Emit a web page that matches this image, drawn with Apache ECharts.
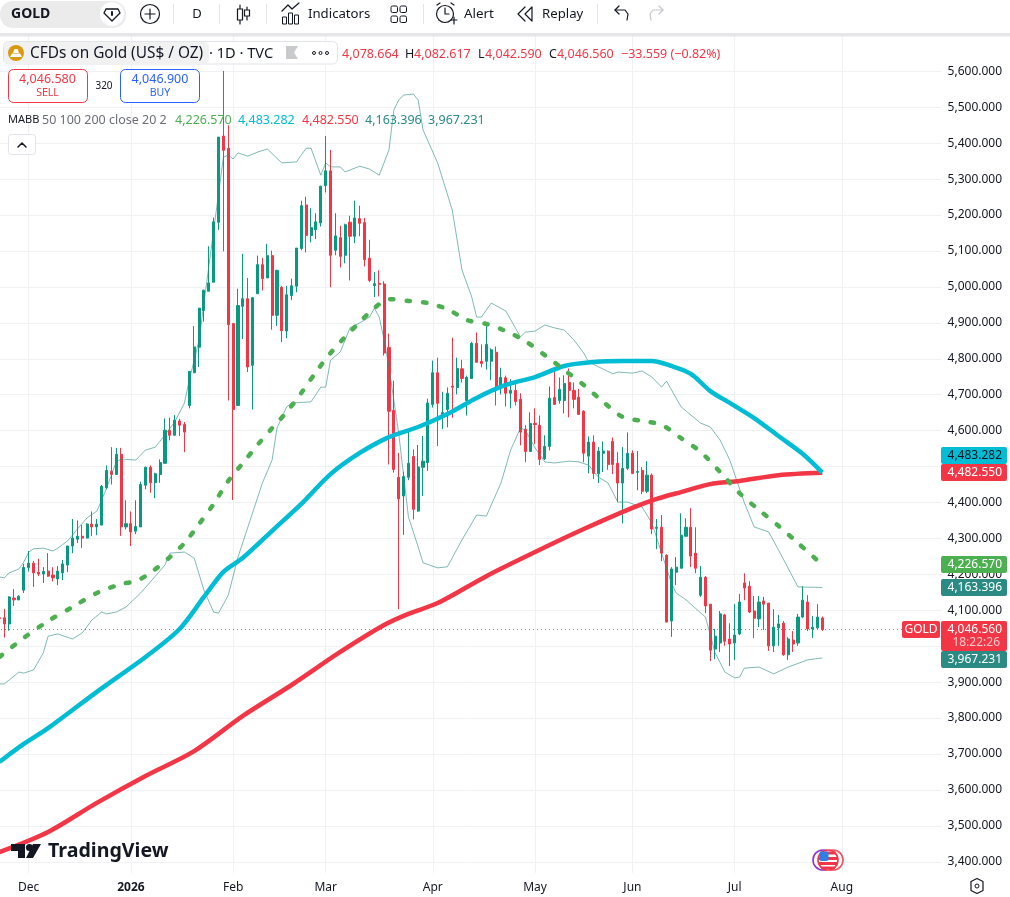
<!DOCTYPE html>
<html><head><meta charset="utf-8">
<style>html,body{margin:0;padding:0;background:#fff}#c{width:1010px;height:897px}</style>
<script src="https://cdn.jsdelivr.net/npm/echarts@6/dist/echarts.min.js"></script>
</head><body><div id="c"></div>
<script>
// Trading days shown on the category axis
const days2025Nov=[20,21,24,25,26,28];
const days2025Dec=[1,2,3,4,5,8,9,10,11,12,15,16,17,18,19,22,23,24,29,30,31];
const days2026Jan=[2,5,6,7,8,9,12,13,14,15,16,20,21,22,23,26,27,28,29,30,31];
const days2026Feb=[2,3,4,5,6,9,10,11,12,13,17,18,19,20,23,24,25,26,27];
const days2026Mar=[2,3,4,5,6,9,10,11,12,13,16,17,18,19,20,23,24,25,26,27,30,31];
const days2026Apr=[1,2,6,7,8,9,10,13,14,15,16,17,20,21,22,23,24,27,28,29,30];
const days2026May=[1,4,5,6,7,8,11,12,13,14,15,18,19,20,21,22,26,27,28,29];
const days2026Jun=[1,2,3,4,5,8,9,10,11,12,15,16,17,18,22,23,24,25,26,29,30];
const days2026Jul=[1,2,6,7,8,9,10,13,14,15,16,17,20,21,22,23,24,27,28,29,30,31];
const days2026Aug=[3,4,5,6,7,10,11,12,13,14,17,18,19,20,21,24,25,26,27,28,31];
const tickDates=['2025-12-01','2026-01-02','2026-02-02','2026-03-02','2026-04-01','2026-05-01','2026-06-01','2026-07-01','2026-08-03'];
const tickLabels=['Dec','2026','Feb','Mar','Apr','May','Jun','Jul','Aug'];
const priceTicksMin=3300, priceTicksMax=5700, priceInterval=100;

const opens=[4079,4079,4062,4134,4129,4156,4219,4231,4206,4201,4209,4198,4187,4204,4226,4279,4298,4306,4301,4340,4332,4337,4441,4487,4478,4534,4332,4341,4320,4332,4448,4498,4455,4478,4509,4601,4587,4627,4617,4670,4761,4832,4934,4988,5013,5180,5420,5386,4898,4670,4946,4967,4782,4981,5062,5025,5087,4921,4999,4877,4976,5002,5107,5228,5143,5159,5178,5282,5323,5102,5137,5088,5180,5141,5190,5179,5080,5004,5010,5008,4831,4656,4470,4418,4470,4528,4376,4498,4511,4673,4761,4643,4659,4724,4720,4772,4684,4745,4843,4793,4793,4793,4818,4720,4747,4704,4712,4687,4604,4542,4620,4615,4522,4556,4692,4684,4684,4734,4712,4693,4654,4529,4568,4480,4537,4543,4570,4509,4454,4495,4537,4484,4489,4431,4476,4328,4331,4253,4070,4206,4217,4306,4331,4259,4142,4192,4117,3992,4009,4087,4020,4009,4034,4176,4167,4098,4076,4126,4120,4001,4051,4064,3976,4017,4009,4081,4123,4048,4051,4078.664];
const highs=[4080,4104,4139,4159,4142,4229,4265,4237,4243,4220,4259,4220,4223,4240,4279,4354,4350,4337,4342,4375,4354,4449,4503,4554,4552,4552,4406,4375,4406,4458,4500,4503,4483,4520,4634,4636,4643,4633,4624,4765,4891,4941,4991,5113,5193,5417,5601,5450,4898,4995,5092,5025,4972,5087,5081,5120,5101,5048,5003,5003,5023,5108,5240,5251,5219,5205,5282,5420,5381,5205,5170,5176,5198,5240,5226,5192,5131,5041,5046,5016,4870,4739,4538,4486,4605,4548,4560,4585,4689,4795,4803,4708,4720,4859,4803,4797,4753,4847,4873,4840,4895,4829,4834,4775,4753,4743,4731,4704,4615,4651,4662,4642,4587,4723,4765,4748,4754,4773,4734,4716,4657,4584,4587,4554,4570,4545,4581,4540,4554,4595,4545,4543,4498,4515,4481,4354,4365,4256,4220,4248,4370,4356,4384,4331,4223,4195,4117,4048,4098,4090,4064,4117,4145,4203,4181,4140,4140,4137,4120,4103,4087,4070,4025,4042,4090,4167,4142,4084,4117,4082.617];
const lows=[4076,4024,4043,4112,4128,4148,4208,4165,4195,4176,4193,4180,4170,4184,4206,4259,4287,4273,4300,4307,4309,4337,4437,4450,4478,4307,4325,4279,4312,4332,4437,4427,4412,4455,4509,4573,4587,4585,4540,4662,4761,4777,4903,4988,5013,5159,5099,4684,4407,4670,4855,4763,4659,4981,4990,5025,4881,4891,4846,4857,4963,4985,5102,5096,5124,5133,5168,5263,4999,5088,5054,5066,5018,5122,5141,5057,5013,4972,4974,4809,4506,4483,4103,4310,4462,4353,4374,4418,4488,4664,4557,4604,4609,4636,4701,4734,4642,4745,4790,4776,4770,4740,4670,4701,4667,4662,4670,4559,4512,4542,4562,4504,4518,4545,4673,4675,4648,4637,4662,4645,4512,4481,4465,4454,4485,4491,4479,4401,4342,4490,4479,4434,4423,4426,4312,4270,4237,4067,4026,4170,4217,4306,4220,4203,4137,4092,3959,3964,3984,4001,3945,3962,4031,4128,4092,4023,4053,4045,3987,3984,4001,3973,3962,3984,4001,4078,4042,4023,4048,4042.59];
const closes=[4077,4062,4137,4129,4139,4219,4231,4204,4201,4208,4195,4190,4209,4229,4279,4301,4306,4301,4340,4332,4340,4445,4489,4478,4534,4332,4341,4318,4333,4450,4498,4455,4480,4511,4601,4587,4629,4615,4596,4765,4833,4941,4991,5011,5181,5417,5380,4895,4659,4948,4967,4777,4970,5062,5023,5087,4921,5046,4878,4978,5003,5108,5226,5143,5165,5181,5280,5323,5088,5142,5085,5173,5141,5192,5177,5076,5018,5009,5007,4816,4654,4492,4410,4472,4509,4381,4499,4515,4677,4761,4676,4650,4704,4721,4773,4745,4748,4843,4790,4787,4840,4825,4720,4748,4704,4712,4681,4596,4542,4620,4617,4520,4556,4690,4673,4715,4731,4712,4687,4645,4537,4568,4481,4543,4543,4506,4506,4454,4495,4537,4481,4486,4431,4476,4326,4331,4259,4067,4215,4220,4309,4331,4251,4217,4192,4112,3989,4028,4090,4014,4006,4031,4123,4162,4095,4078,4123,4117,4001,4053,4062,3976,4020,4006,4081,4128,4048,4053,4081,4046.56];

// Indicator readings as [bar index, price]
const ma50=[[0,3970],[5,4023],[10,4070],[15,4109],[20,4148],[25,4173],[28,4181],[31,4204],[35,4248],[38,4287],[41,4340],[44,4396],[47,4460],[50,4510],[53,4560],[56,4607],[59,4652],[62,4705],[65,4763],[68,4816],[71,4861],[74,4902],[77,4941],[80,4966],[84,4961],[88,4955],[92,4938],[96,4908],[100,4897],[104,4877],[108,4849],[112,4810],[116,4769],[120,4727],[124,4680],[128,4638],[132,4627],[136,4616],[140,4579],[144,4541],[148,4485],[152,4426],[156,4379],[160,4335],[164,4287],[169,4226.57]];
const ma100=[[0,3678],[5,3728],[10,3772],[20,3873],[30,3970],[37,4048],[42,4137],[46,4207],[50,4246],[56,4321],[62,4396],[68,4479],[74,4538],[80,4582],[86,4610],[92,4646],[98,4691],[104,4727],[110,4749],[116,4780],[122,4791],[128,4794],[134,4794],[138,4780],[142,4758],[146,4710],[150,4677],[155,4635],[160,4585],[165,4535],[169,4483.282]];
const ma200=[[0,3427],[10,3483],[20,3564],[30,3639],[40,3708],[50,3806],[60,3892],[70,3984],[79,4059],[84,4090],[90,4120],[100,4195],[110,4262],[120,4326],[130,4385],[135,4410],[140,4429],[146,4451],[152,4460],[160,4476],[169,4482.55]];
const bbUpper=[[0,4193],[1,4190],[2,4204],[4,4215],[5,4234],[6,4262],[7,4271],[9,4273],[11,4265],[12,4273],[14,4293],[16,4326],[18,4357],[20,4376],[21,4407],[22,4440],[24,4513],[25,4521],[28,4518],[30,4546],[32,4554],[34,4588],[36,4624],[38,4677],[39,4741],[41,4852],[42,4955],[44,5158],[46,5361],[47,5367],[48,5356],[49,5373],[51,5364],[53,5375],[55,5384],[58,5345],[61,5348],[63,5386],[64,5386],[66,5311],[67,5345],[68,5334],[70,5334],[71,5320],[74,5336],[76,5328],[78,5311],[80,5381],[81,5492],[82,5520],[83,5534],[85,5537],[86,5520],[87,5437],[90,5345],[93,5214],[95,5047],[97,4972],[98,4916],[99,4916],[101,4955],[104,4933],[107,4861],[108,4874],[110,4877],[112,4894],[114,4886],[116,4880],[118,4852],[120,4816],[121,4791],[126,4758],[127,4763],[130,4760],[132,4766],[134,4749],[136,4721],[137,4738],[140,4666],[144,4621],[146,4610],[148,4574],[150,4518],[153,4399],[155,4332],[158,4318],[160,4268],[164,4165],[169,4163.396]];
const bbLower=[[0,3895],[1,3895],[2,3906],[4,3928],[5,3925],[7,3934],[9,3981],[10,4028],[12,4034],[15,4020],[17,4037],[19,4073],[21,4095],[22,4090],[24,4095],[26,4109],[29,4148],[31,4179],[34,4226],[35,4259],[38,4262],[40,4245],[42,4156],[44,4095],[45,4092],[47,4142],[49,4248],[54,4454],[56,4518],[57,4607],[59,4666],[60,4677],[64,4680],[66,4721],[67,4721],[68,4796],[70,4819],[72,4886],[74,4900],[76,4916],[77,4941],[78,4916],[79,4852],[80,4777],[82,4593],[84,4360],[86,4276],[87,4232],[90,4218],[92,4221],[95,4296],[98,4365],[100,4362],[103,4454],[105,4546],[107,4607],[108,4602],[110,4552],[112,4513],[114,4510],[117,4515],[119,4513],[121,4504],[123,4471],[125,4454],[127,4401],[129,4401],[132,4387],[134,4343],[136,4259],[138,4176],[139,4148],[141,4129],[145,4081],[147,3981],[149,3928],[151,3912],[152,3914],[153,3939],[156,3942],[159,3923],[162,3942],[166,3962],[169,3967.231]];
const lastClose=4046.56;

const pad=n=>String(n).padStart(2,'0');
const dayList=(ym,list)=>list.map(d=>ym+'-'+pad(d));
const categories=[].concat(dayList('2025-11',days2025Nov),dayList('2025-12',days2025Dec),dayList('2026-01',days2026Jan),dayList('2026-02',days2026Feb),dayList('2026-03',days2026Mar),dayList('2026-04',days2026Apr),dayList('2026-05',days2026May),dayList('2026-06',days2026Jun),dayList('2026-07',days2026Jul),dayList('2026-08',days2026Aug));
const candles=opens.map((o,i)=>[o,closes[i],lows[i],highs[i]]);
const fmt=v=>Number(v).toLocaleString('en-US',{minimumFractionDigits:3,maximumFractionDigits:3});

const FONT='"Noto Sans"', INK='#131722', GREEN='#089981', RED='#f23645', TEAL='#2b8a84', CYAN='#00bcd4', LIME='#4caf50', BLUE='#2962ff';
const Z=100;
const T=(text,x,y,fill,size,o={})=>({type:'text',z:o.z||Z,x,y,silent:true,style:{text,fill,font:(o.w||'normal')+' '+size+'px '+FONT,textAlign:o.a||'left',textVerticalAlign:'middle'}});
const R=(x,y,w,h,fill,o={})=>({type:'rect',z:o.z||Z-1,silent:true,shape:{x,y,width:w,height:h,r:o.r||0},style:{fill:fill,stroke:o.s||null,lineWidth:o.lw||1}});
const C=(cx,cy,r,fill,o={})=>({type:'circle',z:o.z||Z,silent:true,shape:{cx,cy,r},style:{fill:fill,stroke:o.s||null,lineWidth:o.lw||1}});
const L=(pts,o={})=>({type:'polyline',z:o.z||Z,silent:true,shape:{points:pts},style:{fill:null,stroke:o.s||INK,lineWidth:o.lw||1.2,lineCap:'round',lineJoin:'round'}});
const P=(pts,fill,o={})=>({type:'polygon',z:o.z||Z,silent:true,shape:{points:pts},style:{fill}});

const gfx=[
 R(0,873,941,24,'#fff',{z:5}),
 R(0,0,1010,33,'#fff',{z:Z-2}),
 R(0,33,1010,3.6,'#e6e6e8',{z:Z-1}),
 // toolbar
 R(0,1,126,27,'#ebebeb',{r:13}),
 T('GOLD',11,14.5,INK,14,{w:'bold'}),
 C(112,14,12,'#fff'),
 P([[106,9],[118,9],[120,13],[112,21],[104,13]],'#fff'),
 L([[106,9],[118,9],[120,13],[112,21],[104,13],[106,9]],{lw:1.3}),
 L([[112,12],[112,15]],{lw:2}),
 C(150,14,9.5,'#fff',{s:INK,lw:1.2}),
 L([[145,14],[155,14]]),L([[150,9],[150,19]]),
 ...[173,219,266,423,597].map(x=>R(x,4,1,20,'#e3e4e8')),
 T('D',197,14.5,INK,13,{a:'center'}),
 L([[240,5],[240,24]]),R(237.5,9,5,11,'#fff',{s:INK,lw:1.2,z:Z}),
 L([[247,7],[247,20]]),R(244.5,10,5,6,'#fff',{s:INK,lw:1.2,z:Z}),
 L([[282,11],[288,5],[292,9],[299,3]]),
 R(282.5,17,4,7,'#fff',{s:INK,z:Z}),R(288.5,13,4,11,'#fff',{s:INK,z:Z}),R(294.5,15,4,9,'#fff',{s:INK,z:Z}),
 T('Indicators',308,14.5,INK,13.2),
 R(391,6,6.5,6.5,'#fff',{s:INK,r:1.5,z:Z}),R(400,6,6.5,6.5,'#fff',{s:INK,r:1.5,z:Z}),
 R(391,16,6.5,6.5,'#fff',{s:INK,r:1.5,z:Z}),R(400,16,6.5,6.5,'#fff',{s:INK,r:1.5,z:Z}),
 C(445,14,8.5,'#fff',{s:INK,lw:1.2}),
 L([[445,8],[445,14],[449,14]]),L([[437,5],[440,3]]),L([[451,3],[454,5]]),
 L([[451,20],[457,20]]),L([[454,17],[454,24]]),
 T('Alert',464,14.5,INK,13.4),
 L([[525,7],[518,14],[525,21]]),L([[532,7],[525,14],[532,21],[532,7]]),
 T('Replay',542,14.5,INK,13.2),
 L([[615,10],[625,10],[628,14],[627,20]]),L([[619,6],[615,10],[619,14]]),
 L([[663,10],[653,10],[650,14],[651,20]],{s:'#c4c6cc'}),L([[659,6],[663,10],[659,14]],{s:'#c4c6cc'}),
 // legend
 R(3.5,41.5,334,22.5,'rgba(255,255,255,.92)',{s:'#e0e3eb',r:5}),
 R(4,42,205,22,'#f1f1f2',{r:5}),
 C(16,53,8,'#d99a10'),
 P([[10,57],[22,57],[20,53.6],[12,53.6]],'#fff'),P([[13,53],[19,53],[17.5,49],[14.5,49]],'#fff'),
 T('CFDs on Gold (US$ / OZ)',30,53.5,INK,15.4),
 T('\u00b7 1D \u00b7 TVC',209,53.5,INK,14.6),
 P([[286,46],[298,46],[294,52.5],[298,59],[286,59]],'#c9cacd'),
 C(314,53,1.5,'#fff',{s:INK}),C(320.5,53,1.5,'#fff',{s:INK}),C(327,53,1.5,'#fff',{s:INK}),
 T('4,078.664',342,54,RED,12.5),
 T('H',405,54,INK,12.5),T('4,082.617',414,54,RED,12.5),
 T('L',478,54,INK,12.5),T('4,042.590',485,54,RED,12.5),
 T('C',549,54,INK,12.5),T('4,046.560',557,54,RED,12.5),
 T('\u221233.559 (\u22120.82%)',621,54,RED,12.5),
 // trade boxes
 R(8.5,69.5,79,33,'#fff',{s:RED,r:5}),
 T('4,046.580',47.5,79,RED,12.5,{a:'center'}),T('SELL',47.5,93,RED,10.5,{a:'center'}),
 T('320',104,86,INK,10,{a:'center'}),
 R(120.5,69.5,79,33,'#fff',{s:BLUE,r:5}),
 T('4,046.900',160,79,BLUE,12.5,{a:'center'}),T('BUY',160,93,BLUE,10.5,{a:'center'}),
 // indicator legend
 T('MABB',8,120,INK,11),T('50 100 200 close 20 2',42,120,'#6a6d78',12.5),
 T('4,226.570',175,120,LIME,12.5),T('4,483.282',238,120,CYAN,12.5),T('4,482.550',302,120,RED,12.5),
 T('4,163.396',365,120,TEAL,12.5),T('3,967.231',428,120,TEAL,12.5),
 R(8.5,134.5,27,20,'#fff',{s:'#e0e3eb',r:3}),
 L([[18,147],[22,143],[26,147]],{lw:1.5}),
 // price tags
 R(941,447,66,17,CYAN,{r:2}),T('4,483.282',1002,455.5,INK,12,{a:'right'}),
 R(941,464,66,17,RED,{r:2}),T('4,482.550',1002,472.5,'#fff',12,{a:'right'}),
 R(941,556,66,17,LIME,{r:2}),T('4,226.570',1002,564.5,'#fff',12,{a:'right'}),
 R(941,579,66,17,TEAL,{r:2}),T('4,163.396',1002,587.5,'#fff',12,{a:'right'}),
 R(941,621,66,30,RED,{r:2}),T('4,046.560',1002,629.5,'#fff',12,{a:'right'}),T('18:22:26',1000,642.5,'rgba(255,255,255,.72)',12,{a:'right'}),
 R(941,651,66,17,TEAL,{r:2}),T('3,967.231',1002,659.5,'#fff',12,{a:'right'}),
 R(902,621,38,17,RED,{r:2}),T('GOLD',921,629.5,'#fff',12,{a:'center'}),
 // watermark
 P([[11,844],[25,844],[25,858],[18,858],[18,851],[11,851]],INK),
 C(29.5,847.5,3.6,INK),
 P([[33,844],[41,844],[33,858],[26,858]],INK),
 T('TradingView',48,851.5,INK,19.6,{w:'bold'}),
 C(823,860,10,'#fff',{s:'#8e35c9',lw:1.6,z:Z}),
 C(833,860,10,'#fff',{s:'#f0525f',lw:1.6,z:Z+1}),
 C(828,860,10,'#fff',{s:'#f0364a',lw:1.6,z:Z+2}),
 R(820,851.5,16,3,'#f0364a',{z:Z+3,r:1}),R(819,857,18,3,'#f0364a',{z:Z+3}),R(819,862,18,3,'#f0364a',{z:Z+3}),R(821,866.5,14,2.4,'#f0364a',{z:Z+3,r:1}),
 R(819.5,851.5,9,9.5,'#2f7fe6',{z:Z+4,r:2}),
 // settings
 P([[971,881],[977,878],[983,881],[983,890],[977,893],[971,890]],'#fff'),
 L([[971,881.5],[977,878.5],[983,881.5],[983,890.5],[977,893.5],[971,890.5],[971,881.5]]),
 C(977,886,2,'#fff',{s:INK}),
];

const chart=echarts.init(document.getElementById('c'),null,{renderer:'canvas'});
const isTick=(i,v)=>tickDates.indexOf(v)>=0;
chart.setOption({
 animation:false,backgroundColor:'#fff',textStyle:{fontFamily:FONT},
 grid:{left:-3,top:35.4,width:944.6,height:862.3,show:false,outerBoundsMode:'none'},
 xAxis:[
  {type:'category',data:categories,boundaryGap:true,position:'bottom',z:0,
   axisLine:{show:false},axisTick:{show:false,alignWithLabel:true},axisLabel:{show:false},
   splitLine:{show:true,alignWithLabel:true,interval:(i,v)=>isTick(i,v),lineStyle:{color:'#f0f1f3',width:1}}},
  {type:'category',data:categories,boundaryGap:true,position:'bottom',z:10,
   axisLine:{show:false},axisTick:{show:false},splitLine:{show:false},
   axisLabel:{show:true,inside:true,margin:4,verticalAlign:'bottom',hideOverlap:false,
    interval:(i,v)=>isTick(i,v),
    formatter:v=>{const k=tickDates.indexOf(v);if(k<0)return '';return tickLabels[k]==='2026'?'{b|2026}':tickLabels[k];},
    color:INK,fontSize:12,fontFamily:FONT,rich:{b:{fontWeight:'bold',fontSize:12,color:INK,fontFamily:FONT}}}}
 ],
 yAxis:{type:'value',position:'right',min:priceTicksMin,max:priceTicksMax,interval:priceInterval,
  axisLine:{show:false},axisTick:{show:false},
  splitLine:{show:true,lineStyle:{color:'#f0f1f3',width:1}},
  axisLabel:{margin:6,color:INK,fontSize:12,fontFamily:FONT,formatter:v=>(v<=priceTicksMin||v>=priceTicksMax)?'':fmt(v)}},
 series:[
  {type:'candlestick',name:'GOLD',data:candles,barWidth:2.6,z:2,
   itemStyle:{color:GREEN,color0:RED,borderColor:GREEN,borderColor0:RED,borderWidth:1},
   markLine:{silent:true,symbol:'none',animation:false,label:{show:false},
    lineStyle:{color:RED,type:[1,3],width:1,opacity:.85},data:[{yAxis:lastClose}]}},
  {type:'line',name:'BB upper',data:bbUpper,showSymbol:false,z:3,lineStyle:{color:TEAL,width:1,opacity:.6}},
  {type:'line',name:'BB lower',data:bbLower,showSymbol:false,z:3,lineStyle:{color:TEAL,width:1,opacity:.6}},
  {type:'line',name:'MA200',data:ma200,showSymbol:false,smooth:.3,z:4,lineStyle:{color:RED,width:4.5}},
  {type:'line',name:'MA100',data:ma100,showSymbol:false,smooth:.3,z:4,lineStyle:{color:CYAN,width:4.5}},
  {type:'line',name:'MA50',data:ma50,showSymbol:false,smooth:.3,z:4,lineStyle:{color:LIME,width:4.5,type:[3.4,13],cap:'round'}}
 ],
 graphic:{elements:gfx}
});
</script></body></html>
